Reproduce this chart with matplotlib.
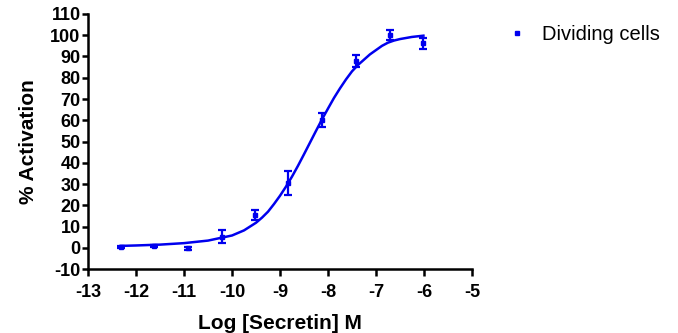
import matplotlib
matplotlib.use("Agg")
import matplotlib.pyplot as plt

plt.rcParams['font.family'] = ['Liberation Sans', 'DejaVu Sans']
plt.rcParams['axes.unicode_minus'] = False

# measured points (mean +/- SEM)
log_dose = [-12.32, -11.62, -10.92, -10.21, -9.52, -8.83, -8.12, -7.42, -6.71, -6.01]
activation = [0.5, 0.7, -0.3, 5.2, 15.4, 30.6, 60.1, 87.9, 100.1, 96.2]
sem = [0.4, 0.4, 0.8, 3.1, 2.4, 5.7, 3.2, 3.0, 2.5, 2.7]

# fitted curve
curve_x = [-12.32, -12.0, -11.5, -11.0, -10.5, -10.0, -9.75, -9.5, -9.375, -9.25, -9.125,
           -9.0, -8.875, -8.75, -8.625, -8.5, -8.375, -8.25, -8.125, -8.0, -7.875,
           -7.75, -7.625, -7.5, -7.375, -7.25, -7.125, -7.0, -6.875, -6.75, -6.625,
           -6.5, -6.25, -6.01]
curve_y = [0.9, 1.1, 1.5, 2.2, 3.4, 5.8, 8.2, 11.8, 14.2, 17.0, 20.6,
           24.5, 28.8, 33.5, 38.6, 44.0, 49.5, 55.0, 60.4, 65.5, 70.5,
           75.0, 79.2, 83.0, 86.0, 88.5, 91.0, 93.0, 95.0, 96.5, 97.5,
           98.2, 99.2, 99.8]

x_ticks = list(range(-13, -4))
y_ticks = list(range(-10, 111, 10))

blue = "#0000ee"

fig = plt.figure(figsize=(6.78, 3.33), dpi=100)
ax = fig.add_axes([0.130, 0.192, 0.566, 0.766])

ax.plot(curve_x, curve_y, color=blue, linewidth=1.8)
ax.errorbar(log_dose, activation, yerr=sem, fmt='none', ecolor=blue,
            elinewidth=1.6, capsize=2.6, capthick=1.6)
ax.plot(log_dose, activation, linestyle='none', marker='s', markersize=3.2,
        color=blue, label="Dividing cells")

ax.set_xlim(-13, -5)
ax.set_ylim(-10, 110)
ax.set_xticks(x_ticks)
ax.set_yticks(y_ticks)
ax.spines['top'].set_visible(False)
ax.spines['right'].set_visible(False)
for s in ['left', 'bottom']:
    ax.spines[s].set_linewidth(1.8)
ax.tick_params(axis='y', direction='out', length=4, width=1.8, labelsize=13, pad=1.5)
ax.tick_params(axis='x', direction='out', length=5, width=1.8, labelsize=13, pad=6)
for lab in ax.get_xticklabels() + ax.get_yticklabels():
    lab.set_fontweight('bold')

ax.set_xlabel("Log [Secretin] M", fontsize=15, fontweight='bold', labelpad=9)
ax.set_ylabel("% Activation", fontsize=15, fontweight='bold', labelpad=9)

ax.legend(loc='upper left', bbox_to_anchor=(0.750, 0.925), bbox_transform=fig.transFigure,
          frameon=False, fontsize=14.5, handlelength=0.8, handletextpad=0.85,
          borderpad=0, borderaxespad=0)

fig.savefig("out.png", dpi=100)
